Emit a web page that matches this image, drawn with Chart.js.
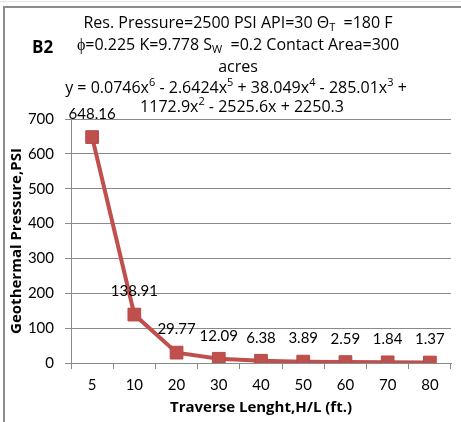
<!DOCTYPE html>
<html>
<head>
<meta charset="utf-8">
<script src="https://cdn.jsdelivr.net/npm/chart.js@4.4.1/dist/chart.umd.min.js"></script>
<style>
  html, body { margin: 0; padding: 0; background: #fff; }
  #wrap { position: relative; width: 461px; height: 422px; }
</style>
</head>
<body>
<div id="wrap"><canvas id="pressureChart" width="461" height="422"></canvas></div>
<script>
// data
var lengths = ['5', '10', '20', '30', '40', '50', '60', '70', '80'];
var pressures = [648.16, 138.91, 29.77, 12.09, 6.38, 3.89, 2.59, 1.84, 1.37];
var pressureLabels = ['648.16', '138.91', '29.77', '12.09', '6.38', '3.89', '2.59', '1.84', '1.37'];
var yMin = 0, yMax = 700, yStep = 100;

// header text, split into runs: n = normal, sup = superscript, sub = subscript
var line1 = [['Res. Pressure=2500 PSI API=30 \u0398', 'n'], ['T', 'sub'], ['  =180 F', 'n']];
var line2 = [['\u03d5=0.225 K=9.778 S', 'n'], ['W', 'sub'], ['  =0.2 Contact Area=300', 'n']];
var line3 = [['acres', 'n']];
var eq1 = [['y = 0.0746x', 'n'], ['6', 'sup'], [' - 2.6424x', 'n'], ['5', 'sup'], [' + 38.049x', 'n'], ['4', 'sup'], [' - 285.01x', 'n'], ['3', 'sup'], [' +', 'n']];
var eq2 = [['1172.9x', 'n'], ['2', 'sup'], [' - 2525.6x + 2250.3', 'n']];

(function () {
    var FONT = 'Lato';
    var HEAD = '"Open Sans"';
    var red = '#C0504D';
    var gridGray = '#8a8a8a';

    function runFont(kind) {
        return (kind === 'n' ? '16px ' : '11px ') + HEAD;
    }

    function drawRuns(ctx, runs, cx, cy) {
        var total = 0;
        runs.forEach(function (r) {
            ctx.font = runFont(r[1]);
            total += ctx.measureText(r[0]).width;
        });
        var x = cx - total / 2;
        ctx.textAlign = 'left';
        ctx.textBaseline = 'middle';
        runs.forEach(function (r) {
            ctx.font = runFont(r[1]);
            var dy = r[1] === 'sup' ? -5 : (r[1] === 'sub' ? 5 : 0);
            ctx.fillText(r[0], x, cy + dy);
            x += ctx.measureText(r[0]).width;
        });
    }

    var extras = {
        id: 'extras',
        beforeDraw: function (chart) {
            var ctx = chart.ctx;
            ctx.save();
            ctx.fillStyle = '#fff';
            ctx.fillRect(0, 0, chart.width, chart.height);
            ctx.strokeStyle = '#e6e6e6';
            ctx.lineWidth = 1;
            ctx.beginPath();
            ctx.moveTo(0, 1.5);
            ctx.lineTo(chart.width, 1.5);
            ctx.stroke();
            ctx.strokeStyle = '#8c8c8c';
            ctx.lineWidth = 2;
            ctx.beginPath();
            ctx.moveTo(4, chart.height);
            ctx.lineTo(4, 7);
            ctx.lineTo(chart.width, 7);
            ctx.stroke();
            ctx.restore();
        },
        afterDatasetsDraw: function (chart) {
            var ctx = chart.ctx;
            var area = chart.chartArea;
            ctx.save();
            ctx.fillStyle = '#000';

            // closing tick mark at right end of the category axis
            ctx.strokeStyle = gridGray;
            ctx.lineWidth = 1;
            ctx.beginPath();
            ctx.moveTo(Math.round(area.right) - 0.5, area.bottom);
            ctx.lineTo(Math.round(area.right) - 0.5, area.bottom + 6);
            ctx.stroke();

            // data labels
            ctx.font = '15px ' + FONT;
            ctx.textAlign = 'center';
            ctx.textBaseline = 'middle';
            chart.getDatasetMeta(0).data.forEach(function (pt, i) {
                ctx.fillText(pressureLabels[i], pt.x, pt.y - 23);
            });

            // header block
            ctx.font = 'bold 17px ' + HEAD;
            ctx.textAlign = 'left';
            ctx.fillText('B2', 32, 48);
            drawRuns(ctx, line1, 238, 23);
            drawRuns(ctx, line2, 238, 45);
            drawRuns(ctx, line3, 238, 67);
            drawRuns(ctx, eq1, 236, 88);
            drawRuns(ctx, eq2, 242, 107);
            ctx.restore();
        }
    };

    new Chart(document.getElementById('pressureChart'), {
        type: 'line',
        data: {
            labels: lengths,
            datasets: [{
                data: pressures,
                borderColor: red,
                backgroundColor: red,
                borderWidth: 4,
                tension: 0,
                pointStyle: 'rect',
                pointRadius: 9,
                pointBorderWidth: 1,
                pointBorderColor: '#b64a47',
                pointBackgroundColor: red
            }]
        },
        options: {
            responsive: false,
            animation: false,
            layout: { padding: { top: 119, right: 8, left: 0, bottom: 0 } },
            plugins: { legend: { display: false }, tooltip: { enabled: false } },
            scales: {
                x: {
                    offset: true,
                    grid: { offset: true, drawOnChartArea: false, tickLength: 6, color: gridGray },
                    border: { color: gridGray },
                    ticks: { color: '#000', font: { family: FONT, size: 15 }, padding: 7, maxRotation: 0 },
                    title: {
                        display: true, text: 'Traverse Lenght,H/L (ft.)', color: '#000',
                        font: { family: 'Open Sans', size: 15, weight: 'bold' }, padding: { top: 0, bottom: 5 }
                    },
                    afterFit: function (s) { s.height = 59; }
                },
                y: {
                    min: yMin,
                    max: yMax,
                    grid: { color: gridGray, tickLength: 6 },
                    border: { color: gridGray },
                    ticks: { stepSize: yStep, color: '#000', font: { family: FONT, size: 15 }, padding: 11 },
                    title: {
                        display: true, text: 'Geothermal Pressure,PSI', color: '#000',
                        font: { family: 'Open Sans', size: 15, weight: 'bold' }, padding: { top: 8, bottom: 0 }
                    },
                    afterFit: function (s) { s.width = 71; }
                }
            }
        },
        plugins: [extras]
    });
})();
</script>
</body>
</html>
